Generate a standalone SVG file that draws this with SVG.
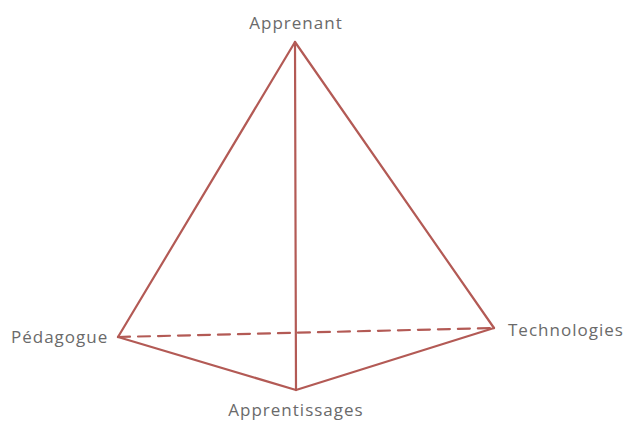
<svg xmlns="http://www.w3.org/2000/svg" width="624" height="421" viewBox="0 0 624 421">
<style>
.e{stroke:#b35a55;stroke-width:2.2;fill:none;stroke-linecap:round;stroke-linejoin:round}
.d{stroke-dasharray:12 8}
text{font-family:"Open Sans","Liberation Sans",sans-serif;font-size:17px;letter-spacing:1px;fill:#6a6a6a}
</style>
<rect width="624" height="421" fill="#fff"/>
<g id="connectors">
<line class="e" x1="295" y1="42" x2="118" y2="337"/>
<line class="e" x1="295" y1="42" x2="494" y2="328"/>
<line class="e" x1="295" y1="42" x2="296" y2="390"/>
<line class="e" x1="118" y1="337" x2="296" y2="390"/>
<line class="e" x1="296" y1="390" x2="494" y2="328"/>
<line class="e d" x1="118" y1="337" x2="494" y2="328"/>
</g>
<g id="apprenant"><text x="296" y="29" text-anchor="middle">Apprenant</text></g>
<g id="pedagogue"><text x="11" y="343">Pédagogue</text></g>
<g id="technologies"><text x="508" y="336">Technologies</text></g>
<g id="apprentissages"><text x="296" y="416" text-anchor="middle">Apprentissages</text></g>
</svg>
